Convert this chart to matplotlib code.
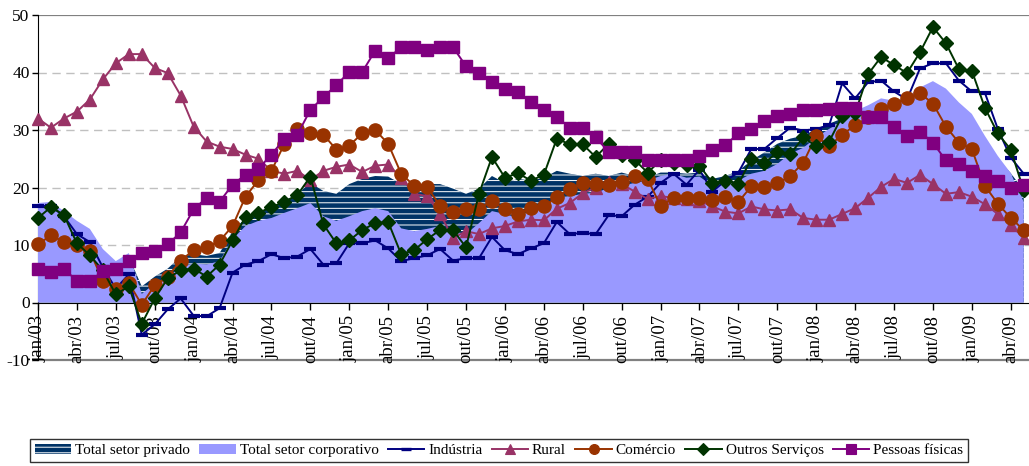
import matplotlib
matplotlib.use("Agg")
import matplotlib.pyplot as plt
from matplotlib.patches import Patch
from matplotlib.lines import Line2D

# Monthly series, jan/03 .. mai/09 (% growth)
meses = ['jan', 'fev', 'mar', 'abr', 'mai', 'jun', 'jul', 'ago', 'set', 'out', 'nov', 'dez']
anos = ['03', '04', '05', '06', '07', '08', '09']
categorias = [f"{m}/{a}" for a in anos for m in meses][:77]

total_privado = [16.0, 16.3, 14.8, 13.2, 11.8, 8.5, 6.6, 8.0, 2.8, 4.5, 5.9, 8.0, 8.4, 8.1, 8.6, 12.4,
                 14.7, 15.9, 16.4, 17.7, 18.9, 20.8, 19.4, 18.9, 20.6, 21.5, 22.0, 21.9, 20.6, 20.3, 20.6,
                 20.6, 19.8, 18.9, 19.8, 22.0, 20.8, 21.5, 21.2, 21.7, 22.9, 22.4, 22.0, 22.4, 22.0, 22.6,
                 22.0, 21.7, 22.6, 22.6, 22.4, 22.6, 21.5, 22.0, 22.9, 24.7, 26.1, 27.6, 28.5, 29.0, 30.2,
                 31.1, 32.0, 33.0, 33.5, 34.0, 34.0, 34.5, 35.5, 36.5, 35.5, 33.5, 31.5, 28.0, 25.0, 22.5,
                 19.5]
total_corporativo = [17.3, 17.5, 15.9, 14.2, 12.8, 9.3, 7.2, 8.6, 1.5, 3.3, 4.5, 6.1, 6.8, 6.6, 7.2, 11.0,
                     13.3, 14.2, 14.7, 15.6, 16.4, 17.3, 15.0, 14.2, 15.0, 15.9, 16.4, 15.9, 12.9, 12.4, 12.8,
                     13.3, 12.4, 11.9, 13.8, 15.9, 15.4, 14.7, 15.9, 16.4, 18.0, 18.5, 18.9, 19.1, 19.9, 20.3,
                     20.8, 21.2, 22.0, 22.4, 21.7, 21.9, 20.3, 20.8, 21.2, 22.4, 22.9, 24.1, 25.9, 26.9, 28.7,
                     30.2, 31.5, 33.3, 34.3, 35.5, 35.1, 35.7, 37.4, 38.5, 37.2, 34.8, 32.8, 29.0, 25.5, 22.5,
                     17.5]
industria = [16.8, 16.8, 15.0, 11.9, 10.5, 6.1, 2.4, 4.9, -5.6, -3.8, -1.2, 0.7, -2.3, -2.4, -1.0, 5.2,
             6.6, 7.2, 8.4, 7.7, 8.0, 9.3, 6.6, 6.8, 10.3, 10.3, 10.8, 9.4, 7.2, 7.7, 8.2,
             9.3, 7.3, 7.7, 7.7, 11.4, 9.1, 8.4, 9.4, 10.3, 14.0, 11.9, 12.1, 11.9, 15.2, 15.0,
             17.0, 18.4, 20.8, 22.4, 20.5, 23.1, 19.3, 21.2, 22.6, 26.7, 26.7, 28.6, 30.4, 29.9, 30.2,
             30.8, 38.1, 35.5, 38.3, 38.6, 36.7, 35.3, 40.7, 41.6, 41.6, 38.6, 36.7, 36.5, 30.2, 25.2,
             22.4]
rural = [32.0, 30.4, 32.0, 33.2, 35.3, 38.8, 41.6, 43.2, 43.2, 40.8, 39.9, 36.0, 30.6, 28.0, 27.1, 26.7,
         25.7, 25.0, 22.9, 22.4, 22.9, 21.3, 22.9, 23.6, 24.0, 22.7, 23.8, 24.0, 21.7, 18.9, 18.5,
         15.4, 11.2, 12.4, 11.9, 12.9, 13.3, 14.1, 14.4, 14.3, 16.3, 17.3, 19.0, 20.0, 21.0, 20.6,
         19.3, 18.0, 18.5, 18.2, 18.0, 17.7, 16.7, 15.8, 15.5, 16.7, 16.2, 16.0, 16.2, 14.7, 14.4,
         14.4, 15.4, 16.4, 18.2, 20.1, 21.5, 20.8, 22.2, 20.6, 18.9, 19.2, 18.4, 17.1, 15.4, 13.5,
         11.2]
comercio = [10.1, 11.7, 10.5, 10.0, 8.9, 3.8, 2.3, 3.4, -0.4, 3.0, 4.5, 7.3, 9.1, 9.6, 10.7, 13.3,
            18.4, 21.3, 22.9, 27.6, 30.2, 29.4, 29.2, 26.6, 27.3, 29.4, 30.0, 27.6, 22.4, 20.3, 20.1,
            16.8, 15.7, 16.3, 16.3, 17.7, 16.2, 15.4, 16.4, 16.7, 18.3, 19.8, 20.8, 20.6, 20.4, 21.0,
            22.0, 21.5, 16.8, 18.2, 18.2, 18.2, 17.8, 18.4, 17.5, 20.2, 20.1, 20.7, 22.0, 24.3, 29.0,
            27.2, 29.2, 30.8, 32.2, 33.6, 34.6, 35.5, 36.4, 34.6, 30.6, 27.8, 26.7, 20.3, 17.2, 14.7,
            12.6]
outros_servicos = [14.7, 16.6, 15.2, 10.3, 8.2, 5.6, 1.4, 2.8, -3.7, 0.7, 4.2, 5.6, 5.9, 4.5, 6.6, 10.8,
                   14.9, 15.6, 16.6, 17.5, 18.7, 21.9, 13.6, 10.3, 10.8, 12.6, 13.8, 14.0, 8.4, 9.1, 11.0,
                   12.6, 12.6, 9.6, 18.9, 25.3, 21.7, 22.5, 21.2, 22.2, 28.5, 27.5, 27.5, 25.3, 27.6, 25.7,
                   24.8, 22.6, 24.7, 24.2, 24.0, 23.8, 20.8, 21.2, 20.6, 25.0, 24.2, 26.2, 25.8, 28.7, 27.2,
                   28.0, 32.4, 32.9, 39.7, 42.7, 41.3, 39.9, 43.5, 47.9, 45.1, 40.6, 40.3, 33.9, 29.4, 26.6,
                   19.5]
pessoas_fisicas = [5.8, 5.3, 5.8, 3.8, 3.8, 5.4, 5.9, 7.2, 8.6, 8.9, 10.1, 12.2, 16.2, 18.2, 17.5, 20.5,
                   22.2, 23.3, 25.7, 28.5, 29.2, 33.5, 35.7, 37.8, 40.1, 40.1, 43.8, 42.5, 44.4, 44.4, 43.9,
                   44.4, 44.4, 41.1, 39.9, 38.3, 37.2, 36.6, 34.8, 33.4, 32.3, 30.4, 30.4, 28.7, 26.2, 26.2,
                   26.2, 24.8, 24.8, 24.8, 24.7, 25.5, 26.6, 27.4, 29.4, 30.2, 31.6, 32.5, 32.8, 33.4, 33.4,
                   33.7, 33.9, 33.9, 32.2, 32.3, 30.6, 29.0, 29.7, 27.8, 24.7, 24.1, 22.9, 22.0, 21.2, 20.0,
                   20.5]

y_ticks = [-10, 0, 10, 20, 30, 40, 50]

plt.rcParams['font.family'] = ['Liberation Serif', 'DejaVu Serif']
plt.rcParams['hatch.linewidth'] = 0.7

fig = plt.figure(figsize=(10.29, 4.66), dpi=100)
W, H = 1029, 466
ax = fig.add_axes([38 / W, (H - 360) / H, (W - 38) / W, 345 / H])

# axis line crossing at zero (set before ticks so tick styling is kept)
ax.spines['bottom'].set_position(('data', 0))
ax.spines['bottom'].set_color('black')
ax.spines['bottom'].set_zorder(4)
ax.spines['left'].set_color('black')
ax.spines['top'].set_visible(False)
ax.spines['right'].set_visible(False)
ax.patch.set_alpha(0)

x = list(range(len(categorias)))

# areas: private total behind, corporate total in front
ax.fill_between(x, 0, total_privado, facecolor='#003366', edgecolor='white',
                hatch='---', linewidth=0, zorder=2)
ax.fill_between(x, 0, total_corporativo, facecolor='#9999FF', linewidth=0, zorder=3)

series = [
    (industria, 'Indústria', '#000080', '_', 9, 3.0),
    (rural, 'Rural', '#993366', '^', 9, 1.0),
    (comercio, 'Comércio', '#993300', 'o', 9.5, 1.0),
    (outros_servicos, 'Outros Serviços', '#003300', 'D', 7.5, 1.0),
    (pessoas_fisicas, 'Pessoas físicas', '#800080', 's', 9, 1.0),
]
handles = [Patch(facecolor='#003366', edgecolor='white', hatch='---', linewidth=0,
                 label='Total setor privado'),
           Patch(facecolor='#9999FF', label='Total setor corporativo')]
for i, (vals, name, col, mk, ms, mew) in enumerate(series):
    ax.plot(x, vals, color=col, lw=1.4, marker=mk, markersize=ms, markerfacecolor=col,
            markeredgecolor=col, markeredgewidth=mew, zorder=5 + i, clip_on=False)
    handles.append(Line2D([], [], color=col, lw=1.4, marker=mk,
                          markersize=ms * 0.75, markeredgewidth=mew * 0.8,
                          markerfacecolor=col, markeredgecolor=col, label=name))

# grid and frame lines
for g in [10, 20, 30, 40]:
    ax.axhline(g, color='#C0C0C0', lw=1, ls=(0, (6, 4)), zorder=1)
ax.axhline(50, color='#808080', lw=1.6, zorder=1)
ax.axhline(-10, color='#808080', lw=1.6, zorder=1, clip_on=False)

ax.set_ylim(-10, 50)
ax.set_xlim(0, (W - 38) / 12.97)
ax.set_yticks(y_ticks)
ax.set_yticklabels([str(v) for v in y_ticks], fontsize=12.5)
ax.tick_params(axis='y', direction='out', length=4, width=1, pad=2, colors='black')

tick_pos = list(range(0, len(categorias), 3))
ax.set_xticks(tick_pos)
ax.set_xticklabels([categorias[i] for i in tick_pos], fontsize=13.5)
ax.tick_params(axis='x', direction='out', length=5, width=1, pad=4)
plt.setp(ax.get_xticklabels(), rotation=90, va='top', ha='center')

leg = fig.legend(handles=handles, loc='lower left', bbox_to_anchor=(30 / W, 4 / H),
                 ncol=7, fontsize=11, frameon=True, fancybox=False, edgecolor='black',
                 handlelength=2.4, handletextpad=0.25, columnspacing=0.6,
                 borderpad=0.3, borderaxespad=0)
leg.get_frame().set_linewidth(1.0)

fig.savefig('out.png', dpi=100)
